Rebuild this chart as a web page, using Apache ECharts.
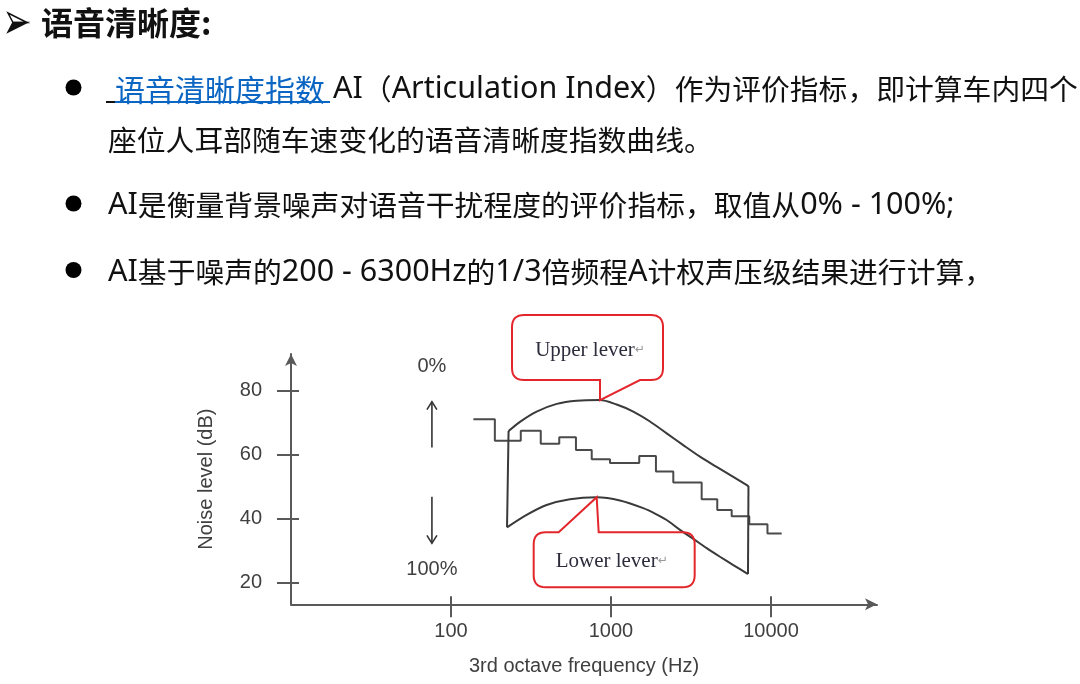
<!DOCTYPE html>
<html><head><meta charset="utf-8">
<script src="https://cdn.jsdelivr.net/npm/echarts@6/dist/echarts.min.js"></script>
<style>html,body{margin:0;padding:0;background:#fff}#c{width:1080px;height:684px}</style>
</head><body><div id="c"></div>
<script>
// ---- data ----
const freqTicks = [100, 1000, 10000];
const dbTicks = [20, 40, 60, 80];
// measured noise spectrum (1/3 octave steps): band edges (Hz) and band levels (dB)
const bandEdgesHz = [138, 188, 273, 364, 475, 604, 758, 986, 1502, 1910, 2452, 3688, 4617, 5681, 7318, 9509, 11667];
const bandLevelDb = [71.0, 64.3, 67.4, 63.3, 65.4, 61.4, 58.5, 57.3, 59.5, 54.7, 51.2, 46.0, 42.6, 40.7, 38.2, 35.3];
// upper level curve (AI = 0%)
const upperHz = [229, 270, 343, 458, 611, 854, 1085, 1378, 1753, 2229, 2830, 3599, 4577, 5813, 7234];
const upperDb = [67.3, 70.2, 73.4, 75.8, 76.8, 77.0, 75.6, 73.4, 70.3, 66.6, 62.9, 59.3, 56.1, 53.0, 50.1];
// lower level curve (AI = 100%)
const lowerHz = [224, 297, 396, 554, 814, 1138, 1591, 1884, 2229, 2700, 3268, 3963, 4800, 5813, 7184];
const lowerDb = [37.2, 41.1, 44.2, 46.0, 46.6, 45.6, 43.2, 41.5, 39.5, 36.4, 33.6, 30.7, 28.0, 25.4, 22.6];
const calloutTexts = ['Upper lever', 'Lower lever'];
const scaleTexts = ['0%', '100%'];

// ---- build ----
const stepData = bandLevelDb.map((v, i) => [bandEdgesHz[i], v]);
stepData.push([bandEdgesHz[bandEdgesHz.length - 1], bandLevelDb[bandLevelDb.length - 1]]);
const upperData = upperHz.map((f, i) => [f, upperDb[i]]);
const lowerData = lowerHz.map((f, i) => [f, lowerDb[i]]);
const leftEdge = [upperData[0], lowerData[0]];
const rightEdge = [upperData[upperData.length - 1], lowerData[lowerData.length - 1]];

const axisColor = '#595959';
const textColor = '#404040';
const latin = 'Liberation Sans, Arial, sans-serif';
const cjk = '"Noto Sans CJK SC", sans-serif';
const gridBox = { left: 291, right: 203, top: 354, bottom: 79.7, outerBoundsMode: 'none' };
const xBase = { type: 'log', logBase: 10, min: 10, max: 46000 };
const yBase = { type: 'value', min: 13.14, max: 91.4 };

const chart = echarts.init(document.getElementById('c'), null, { renderer: 'canvas' });
const lineStyle = (c) => ({ color: c, width: 2 });
chart.setOption({
  animation: false,
  backgroundColor: '#fff',
  grid: [Object.assign({}, gridBox), Object.assign({}, gridBox)],
  xAxis: [
    Object.assign({}, xBase, {
      gridIndex: 0,
      name: '3rd octave frequency (Hz)', nameLocation: 'middle', nameGap: 52,
      nameTextStyle: { fontSize: 20, color: textColor, fontFamily: latin },
      axisLine: { show: true, symbol: ['none', 'arrow'], symbolSize: [9, 12], lineStyle: { color: axisColor, width: 2 } },
      axisTick: { show: true, inside: false, length: 13, customValues: freqTicks, lineStyle: { color: axisColor, width: 2 } },
      axisLabel: { show: true, customValues: freqTicks, margin: 17, fontSize: 20, color: textColor, fontFamily: latin,
        formatter: (v) => String(Math.round(v)) },
      splitLine: { show: false }, minorTick: { show: false }
    }),
    Object.assign({}, xBase, {
      gridIndex: 1,
      axisLine: { show: false },
      axisTick: { show: true, inside: true, length: 8, customValues: freqTicks, lineStyle: { color: axisColor, width: 2 } },
      axisLabel: { show: false }, splitLine: { show: false }
    })
  ],
  yAxis: [
    Object.assign({}, yBase, {
      gridIndex: 0,
      name: 'Noise level (dB)', nameLocation: 'middle', nameGap: 75,
      nameTextStyle: { fontSize: 20, color: textColor, fontFamily: latin },
      axisLine: { show: true, symbol: ['none', 'arrow'], symbolSize: [9, 12], lineStyle: { color: axisColor, width: 2 } },
      axisTick: { show: true, inside: false, length: 14, customValues: dbTicks, lineStyle: { color: axisColor, width: 2 } },
      axisLabel: { show: true, customValues: dbTicks, margin: 29, fontSize: 20, color: textColor, fontFamily: latin },
      splitLine: { show: false }
    }),
    Object.assign({}, yBase, {
      gridIndex: 1,
      axisLine: { show: false },
      axisTick: { show: true, inside: true, length: 8, customValues: dbTicks, lineStyle: { color: axisColor, width: 2 } },
      axisLabel: { show: false }, splitLine: { show: false }
    })
  ],
  series: [
    { type: 'line', name: 'noise', xAxisIndex: 0, yAxisIndex: 0, step: 'end', data: stepData,
      showSymbol: false, lineStyle: lineStyle('#4a4a4a') },
    { type: 'line', name: 'upper', xAxisIndex: 0, yAxisIndex: 0, smooth: 0.3, data: upperData,
      showSymbol: false, lineStyle: lineStyle('#3a3a3a') },
    { type: 'line', name: 'lower', xAxisIndex: 0, yAxisIndex: 0, smooth: 0.3, data: lowerData,
      showSymbol: false, lineStyle: lineStyle('#3a3a3a') },
    { type: 'line', name: 'leftEdge', xAxisIndex: 0, yAxisIndex: 0, data: leftEdge,
      showSymbol: false, lineStyle: lineStyle('#3a3a3a') },
    { type: 'line', name: 'rightEdge', xAxisIndex: 0, yAxisIndex: 0, data: rightEdge,
      showSymbol: false, lineStyle: lineStyle('#3a3a3a') }
  ]
});

// ---- annotations positioned through the chart's scales ----
const P = (f, d) => chart.convertToPixel({ xAxisIndex: 0, yAxisIndex: 0 }, [f, d]);
const scaleFreq = 76;
const g = [];
const bodyRich = { l: { fontSize: 30.5, fontFamily: '"Noto Sans", sans-serif', fill: '#111' } };
const richify = (s) => s.replace(/[\x20-\x7e]+/g, (m) => '{l|' + m + '}');
const txt = (x, y, s, opt) => ({ type: 'text', x: x, y: y, z: 10,
  style: Object.assign({ text: s, align: 'left', verticalAlign: 'middle', fill: '#111', fontSize: 28.8, fontFamily: cjk }, opt || {}) });
const bodyTxt = (x, y, s) => txt(x, y, richify(s), { rich: bodyRich });

// rounded polygon helper: verts = [[x, y, radius]]
function roundPoly(verts) {
  const out = [];
  const n = verts.length;
  for (let i = 0; i < n; i++) {
    const c = verts[i], a = verts[(i - 1 + n) % n], b = verts[(i + 1) % n];
    const rr = c[2] || 0;
    if (!rr) { out.push([c[0], c[1]]); continue; }
    const da = Math.hypot(a[0] - c[0], a[1] - c[1]), db = Math.hypot(b[0] - c[0], b[1] - c[1]);
    const p1 = [c[0] + (a[0] - c[0]) * rr / da, c[1] + (a[1] - c[1]) * rr / da];
    const p2 = [c[0] + (b[0] - c[0]) * rr / db, c[1] + (b[1] - c[1]) * rr / db];
    for (let k = 0; k <= 8; k++) {
      const t = k / 8, u = 1 - t;
      out.push([u * u * p1[0] + 2 * u * t * c[0] + t * t * p2[0], u * u * p1[1] + 2 * u * t * c[1] + t * t * p2[1]]);
    }
  }
  return out;
}

// top text block
g.push({ type: 'polygon', shape: { points: [[8, 13], [27, 22.5], [13, 22.5]] }, style: { fill: '#fff', stroke: '#111', lineWidth: 1.5 } });
g.push({ type: 'polygon', shape: { points: [[13, 22.5], [27, 22.5], [8, 32]] }, style: { fill: '#111', stroke: '#111', lineWidth: 1.5 } });
g.push(txt(41, 22.5, '语音清晰度:', { fontWeight: 'bold', fontSize: 32 }));
[87.5, 203.5, 270].forEach(y => g.push({ type: 'circle', shape: { cx: 73.5, cy: y, r: 8 }, style: { fill: '#000' } }));
g.push(txt(115, 89.5, '语音清晰度指数', { fill: '#0a66c2', fontSize: 30 }));
g.push({ type: 'line', shape: { x1: 106, y1: 102, x2: 115, y2: 102 }, style: { stroke: '#111', lineWidth: 2 } });
g.push({ type: 'line', shape: { x1: 115, y1: 102, x2: 330, y2: 102 }, style: { stroke: '#0a66c2', lineWidth: 2 } });
g.push(bodyTxt(333, 89.5, 'AI（Articulation Index）作为评价指标，即计算车内四个'));
g.push(bodyTxt(108, 140.5, '座位人耳部随车速变化的语音清晰度指数曲线。'));
g.push(bodyTxt(108, 205.5, 'AI是衡量背景噪声对语音干扰程度的评价指标，取值从0% - 100%;'));
g.push(bodyTxt(108, 272, 'AI基于噪声的200 - 6300Hz的1/3倍频程A计权声压级结果进行计算，'));

// 0% / 100% scale with arrows
const p0 = P(scaleFreq, 87.6), p100 = P(scaleFreq, 23.9);
g.push(txt(p0[0], p0[1], scaleTexts[0], { align: 'center', fontSize: 20, fontFamily: latin, fill: textColor }));
g.push(txt(p100[0], p100[1], scaleTexts[1], { align: 'center', fontSize: 20, fontFamily: latin, fill: textColor }));
const aUpTip = P(scaleFreq, 76.5), aUpTail = P(scaleFreq, 62.2);
const aDnTail = P(scaleFreq, 46.8), aDnTip = P(scaleFreq, 32.2);
const arrowStyle = { stroke: '#333', lineWidth: 1.6, fill: 'transparent' };
g.push({ type: 'line', shape: { x1: aUpTip[0], y1: aUpTip[1], x2: aUpTail[0], y2: aUpTail[1] }, style: arrowStyle });
g.push({ type: 'polyline', shape: { points: [[aUpTip[0] - 5, aUpTip[1] + 8], [aUpTip[0], aUpTip[1]], [aUpTip[0] + 5, aUpTip[1] + 8]] }, style: arrowStyle });
g.push({ type: 'line', shape: { x1: aDnTail[0], y1: aDnTail[1], x2: aDnTip[0], y2: aDnTip[1] }, style: arrowStyle });
g.push({ type: 'polyline', shape: { points: [[aDnTip[0] - 5, aDnTip[1] - 8], [aDnTip[0], aDnTip[1]], [aDnTip[0] + 5, aDnTip[1] - 8]] }, style: arrowStyle });

// callouts anchored on curve peaks
const red = '#e3262b';
const rad = 12;
const serif = 'Liberation Serif, Times New Roman, serif';
const calloutRich = { a: { fill: '#2c2c3c', fontSize: 21, fontFamily: serif }, b: { fill: '#999', fontSize: 12, fontFamily: 'DejaVu Sans' } };
const ut = P(upperHz[5], upperDb[5]);
{
  const L = ut[0] - 88, R = ut[0] + 63, T = ut[1] - 85, B = ut[1] - 20;
  const pts = roundPoly([[L, T, rad], [R, T, rad], [R, B, rad], [ut[0] + 40, B, 0], [ut[0], ut[1], 0], [ut[0], B, 0], [L, B, rad]]);
  g.push({ type: 'polygon', z: 9, shape: { points: pts }, style: { fill: 'transparent', stroke: red, lineWidth: 2 } });
  g.push({ type: 'text', x: ut[0] - 10, y: ut[1] - 50, z: 10, style: { rich: calloutRich, text: '{a|' + calloutTexts[0] + '}{b|↵}', align: 'center', verticalAlign: 'middle' } });
}
const lt = P(lowerHz[4], lowerDb[4]);
{
  const L = lt[0] - 63, R = lt[0] + 98, T = lt[1] + 35, B = lt[1] + 90;
  const pts = roundPoly([[L, T, rad], [lt[0] - 38, T, 0], [lt[0], lt[1], 0], [lt[0] + 2, T, 0], [R, T, rad], [R, B, rad], [L, B, rad]]);
  g.push({ type: 'polygon', z: 9, shape: { points: pts }, style: { fill: 'transparent', stroke: red, lineWidth: 2 } });
  g.push({ type: 'text', x: lt[0] + 15, y: lt[1] + 64, z: 10, style: { rich: calloutRich, text: '{a|' + calloutTexts[1] + '}{b|↵}', align: 'center', verticalAlign: 'middle' } });
}
chart.setOption({ graphic: g });
</script></body></html>
